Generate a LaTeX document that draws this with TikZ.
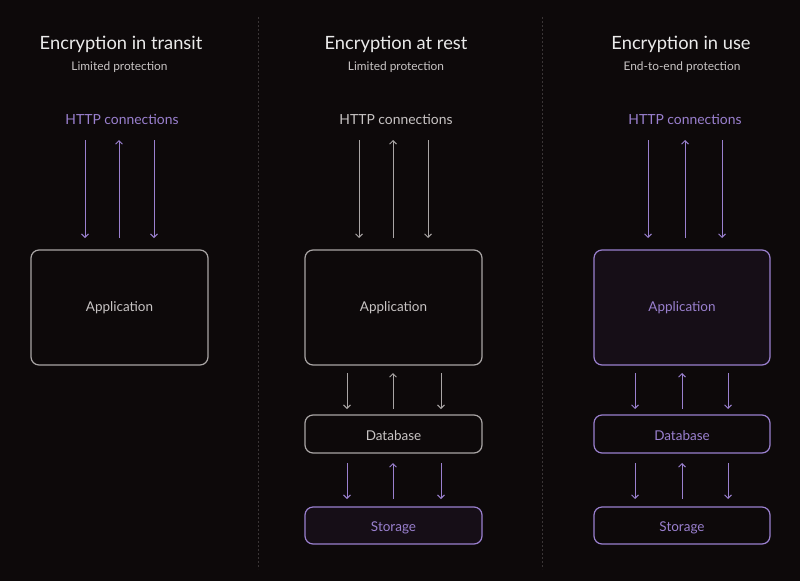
\documentclass[tikz,border=0pt]{standalone}
\usepackage{fontspec}
\setmainfont{Lato}
\usetikzlibrary{arrows.meta}
\definecolor{bg}{HTML}{0D090A}
\definecolor{pur}{HTML}{9A80CF}
\definecolor{purfill}{HTML}{160E17}
\definecolor{gr}{HTML}{C8C4C4}
\definecolor{grline}{HTML}{A9A5A5}
\definecolor{divc}{HTML}{3A3536}
\tikzset{
  title/.style={text=white!92!black, font=\fontsize{18.3}{21}\selectfont},
  subt/.style={text=gr, font=\fontsize{11.9}{14}\selectfont},
  httpp/.style={text=pur, font=\fontsize{13.9}{16}\selectfont},
  httpg/.style={text=gr, font=\fontsize{13.9}{16}\selectfont},
  gbox/.style={draw=grline, line width=1.2pt, rounded corners=8pt, text=gr, font=\fontsize{13.5}{16}\selectfont},
  pbox/.style={draw=pur, fill=purfill, line width=1.2pt, rounded corners=8pt, text=pur, font=\fontsize{13.5}{16}\selectfont},
  lowlbl/.style={text height=12pt, text depth=0pt},
  garr/.style={draw=grline, line width=0.9pt, -{Straight Barb[length=3.5pt,width=7pt]}},
  parr/.style={draw=pur, line width=0.9pt, -{Straight Barb[length=3.5pt,width=7pt]}},
  divl/.style={draw=divc, line width=1pt, dash pattern=on 2pt off 2pt},
}
\begin{document}
\begin{tikzpicture}[x=1pt,y=-1pt]
\fill[bg] (0,0) rectangle (800,581);
\useasboundingbox (0,0) rectangle (800,581);
% dividers
\coordinate (d1t) at (258,17); \coordinate (d1b) at (258,569);
\coordinate (d2t) at (542,17); \coordinate (d2b) at (542,569);
\draw[divl] (d1t) -- (d1b);
\draw[divl] (d2t) -- (d2b);

% ---------- Column 1 ----------
\node[title] (t1) at (121,44) {Encryption in transit};
\node[subt] (s1) at (119.5,67) {Limited protection};
\node[httpp] (h1) at (122,119) {HTTP connections};
\node[gbox, minimum width=177pt, minimum height=115pt] (a1) at (119.5,307.5) {Application};
\coordinate (h1a) at (85,140); \coordinate (a1a) at (85,238);
\coordinate (h1b) at (119,140); \coordinate (a1b) at (119,238);
\coordinate (h1c) at (154,140); \coordinate (a1c) at (154,238);
\draw[parr] (h1a) -- (a1a);
\draw[parr] (a1b) -- (h1b);
\draw[parr] (h1c) -- (a1c);

% ---------- Column 2 ----------
\node[title] (t2) at (396,44) {Encryption at rest};
\node[subt] (s2) at (396,67) {Limited protection};
\node[httpg] (h2) at (396,119) {HTTP connections};
\node[gbox, minimum width=177pt, minimum height=115pt] (a2) at (393.5,307.5) {Application};
\node[gbox, lowlbl, minimum width=177pt, minimum height=38pt] (db2) at (393.5,434) {Database};
\node[pbox, lowlbl, minimum width=177pt, minimum height=37pt] (st2) at (393.5,525.5) {Storage};
\coordinate (h2a) at (359,140); \coordinate (a2a) at (359,238);
\coordinate (h2b) at (393,140); \coordinate (a2b) at (393,238);
\coordinate (h2c) at (428,140); \coordinate (a2c) at (428,238);
\draw[garr] (h2a) -- (a2a);
\draw[garr] (a2b) -- (h2b);
\draw[garr] (h2c) -- (a2c);
\coordinate (a2d) at (347,373); \coordinate (db2d) at (347,409);
\coordinate (a2e) at (393,373); \coordinate (db2e) at (393,409);
\coordinate (a2f) at (441,373); \coordinate (db2f) at (441,409);
\draw[garr] (a2d) -- (db2d);
\draw[garr] (db2e) -- (a2e);
\draw[garr] (a2f) -- (db2f);
\coordinate (db2g) at (347,463); \coordinate (st2g) at (347,499);
\coordinate (db2h) at (393,463); \coordinate (st2h) at (393,499);
\coordinate (db2i) at (441,463); \coordinate (st2i) at (441,499);
\draw[parr] (db2g) -- (st2g);
\draw[parr] (st2h) -- (db2h);
\draw[parr] (db2i) -- (st2i);

% ---------- Column 3 ----------
\node[title] (t3) at (681,44) {Encryption in use};
\node[subt] (s3) at (682,67) {End-to-end protection};
\node[httpp] (h3) at (685,119) {HTTP connections};
\node[pbox, minimum width=176pt, minimum height=115pt] (a3) at (682,307.5) {Application};
\node[pbox, lowlbl, fill=none, minimum width=176pt, minimum height=38pt] (db3) at (682,434) {Database};
\node[pbox, lowlbl, fill=none, minimum width=176pt, minimum height=37pt] (st3) at (682,525.5) {Storage};
\coordinate (h3a) at (648,140); \coordinate (a3a) at (648,238);
\coordinate (h3b) at (685,140); \coordinate (a3b) at (685,238);
\coordinate (h3c) at (722,140); \coordinate (a3c) at (722,238);
\draw[parr] (h3a) -- (a3a);
\draw[parr] (a3b) -- (h3b);
\draw[parr] (h3c) -- (a3c);
\coordinate (a3d) at (635,373); \coordinate (db3d) at (635,409);
\coordinate (a3e) at (682,373); \coordinate (db3e) at (682,409);
\coordinate (a3f) at (728,373); \coordinate (db3f) at (728,409);
\draw[parr] (a3d) -- (db3d);
\draw[parr] (db3e) -- (a3e);
\draw[parr] (a3f) -- (db3f);
\coordinate (db3g) at (635,463); \coordinate (st3g) at (635,499);
\coordinate (db3h) at (682,463); \coordinate (st3h) at (682,499);
\coordinate (db3i) at (728,463); \coordinate (st3i) at (728,499);
\draw[parr] (db3g) -- (st3g);
\draw[parr] (st3h) -- (db3h);
\draw[parr] (db3i) -- (st3i);
\end{tikzpicture}
\end{document}
